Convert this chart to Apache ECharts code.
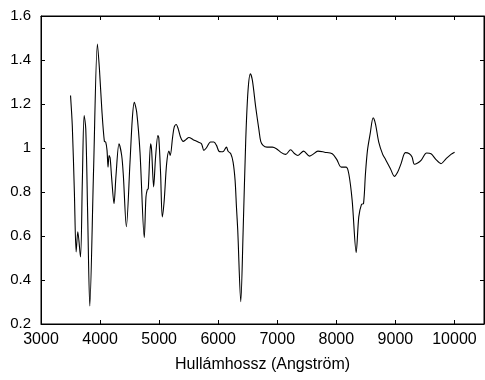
<!DOCTYPE html>
<html>
<head>
<meta charset="utf-8">
<script src="https://cdn.jsdelivr.net/npm/echarts@6/dist/echarts.min.js"></script>
<style>
html,body{margin:0;padding:0;background:#fff;}
#c{width:485px;height:380px;}
</style>
</head>
<body>
<div id="c"></div>
<script>
var wavelength = [3500,3530,3565,3595,3623,3668,3700,3730,3758,3790,3826,3890,3955,3989,4029,4073,4096,4118,4135,4152,4170,4197,4236,4270,4321,4366,4394,4445,4507,4546,4579,4620,4676,4748,4777,4799,4816,4856,4873,4907,4940,4979,4995,5025,5053,5086,5127,5166,5188,5228,5255,5289,5323,5363,5407,5453,5504,5576,5661,5718,5757,5802,5870,5926,5971,6010,6050,6090,6140,6168,6213,6252,6286,6309,6331,6382,6421,6466,6505,6545,6579,6635,6691,6720,6759,6826,6917,6985,7069,7142,7226,7290,7350,7446,7547,7603,7688,7801,7931,8009,8083,8167,8211,8268,8336,8380,8426,8460,8493,8527,8573,8623,8662,8718,8785,8835,8916,8983,9039,9096,9169,9236,9282,9321,9377,9434,9529,9603,9688,9772,9856,9941,10002];
var flux = [1.239,1.10,0.80,0.528,0.619,0.505,0.85,1.148,1.087,0.70,0.282,0.90,1.473,1.36,1.178,1.03,1.027,0.989,0.913,0.966,0.955,0.861,0.747,0.876,1.019,0.966,0.876,0.642,0.936,1.133,1.208,1.163,0.981,0.593,0.777,0.811,0.815,1.019,0.989,0.823,0.959,1.057,1.045,0.883,0.687,0.762,0.929,0.986,0.966,1.049,1.095,1.107,1.087,1.049,1.030,1.038,1.048,1.038,1.027,1.019,0.989,1.001,1.027,1.027,1.012,0.986,0.983,0.985,1.004,0.985,0.974,0.936,0.853,0.732,0.626,0.301,0.611,1.034,1.261,1.337,1.307,1.186,1.080,1.03,1.012,1.004,1.004,0.997,0.979,0.971,0.992,0.975,0.966,0.986,0.963,0.971,0.986,0.981,0.974,0.947,0.913,0.913,0.883,0.762,0.525,0.687,0.744,0.747,0.883,0.989,1.065,1.137,1.110,1.027,0.971,0.947,0.906,0.871,0.891,0.929,0.979,0.974,0.959,0.926,0.932,0.944,0.977,0.974,0.947,0.929,0.951,0.971,0.981];
var xTicks = {min: 3000, max: 10500, interval: 1000};
var yTicks = {min: 0.2, max: 1.6, interval: 0.2};
var xTitle = 'Hullámhossz (Angström)';

var points = wavelength.map(function (w, i) { return [w, flux[i]]; });
var font = 'Liberation Sans, Arial, Helvetica, sans-serif';
var chart = echarts.init(document.getElementById('c'), null, {renderer: 'canvas'});
chart.setOption({
  animation: false,
  backgroundColor: '#fff',
  grid: {left: 41, right: 1, top: 16, bottom: 56, show: true, borderColor: '#000', borderWidth: 1, containLabel: false},
  xAxis: [{
    type: 'value', min: xTicks.min, max: xTicks.max, interval: xTicks.interval, position: 'bottom',
    name: xTitle, nameLocation: 'middle', nameGap: 33,
    nameTextStyle: {fontFamily: font, fontSize: 16, color: '#000'},
    axisLine: {show: true, onZero: false, lineStyle: {color: '#000', width: 1}},
    axisTick: {show: true, inside: true, length: 4, lineStyle: {color: '#000'}},
    axisLabel: {fontFamily: font, fontSize: 16, color: '#000', margin: 8, showMaxLabel: false,
      formatter: function (v) { return v > 10000 ? '' : String(v); }},
    splitLine: {show: false}
  }, {
    type: 'value', min: xTicks.min, max: xTicks.max, interval: xTicks.interval, position: 'top',
    axisLine: {show: true, lineStyle: {color: '#000'}},
    axisTick: {show: true, inside: true, length: 4, lineStyle: {color: '#000'}},
    axisLabel: {show: false}, splitLine: {show: false}
  }],
  yAxis: [{
    type: 'value', min: yTicks.min, max: yTicks.max, interval: yTicks.interval, position: 'left',
    axisLine: {show: true, onZero: false, lineStyle: {color: '#000', width: 1}},
    axisTick: {show: true, inside: true, length: 4, lineStyle: {color: '#000'}},
    axisLabel: {fontFamily: font, fontSize: 15, color: '#000', margin: 10},
    splitLine: {show: false}
  }, {
    type: 'value', min: yTicks.min, max: yTicks.max, interval: yTicks.interval, position: 'right',
    axisLine: {show: true, lineStyle: {color: '#000'}},
    axisTick: {show: true, inside: true, length: 4, lineStyle: {color: '#000'}},
    axisLabel: {show: false}, splitLine: {show: false}
  }],
  series: [{
    type: 'line', xAxisIndex: 0, yAxisIndex: 0, data: points,
    showSymbol: false, smooth: 0.3,
    lineStyle: {color: '#000', width: 1.1}
  }]
});
</script>
</body>
</html>
